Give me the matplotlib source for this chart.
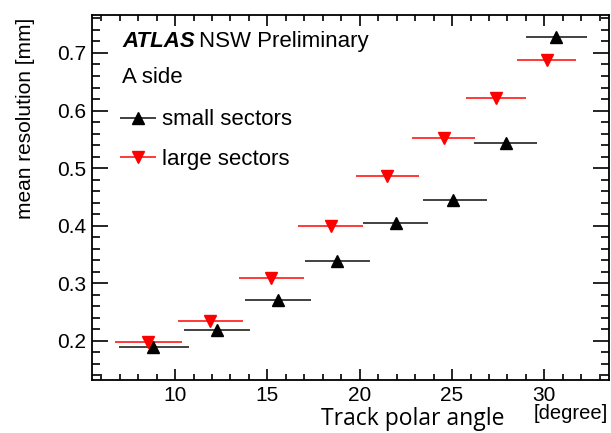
import matplotlib.pyplot as plt
from matplotlib.container import ErrorbarContainer
from matplotlib.legend_handler import HandlerErrorbar
from matplotlib.ticker import MultipleLocator

# small sectors (A side)
small_x = [8.82, 12.27, 15.58, 18.75, 21.96, 25.03, 27.90, 30.65]
small_y = [0.189, 0.218, 0.271, 0.338, 0.405, 0.444, 0.544, 0.727]
small_lo = [6.97, 10.49, 13.80, 17.03, 20.15, 23.40, 26.20, 29.00]
small_hi = [10.73, 14.08, 17.37, 20.54, 23.70, 26.90, 29.60, 32.30]

# large sectors (A side)
large_x = [8.55, 11.90, 15.20, 18.42, 21.50, 24.55, 27.40, 30.15]
large_y = [0.198, 0.234, 0.310, 0.399, 0.486, 0.553, 0.621, 0.687]
large_lo = [6.74, 10.13, 13.44, 16.65, 19.78, 22.83, 25.76, 28.50]
large_hi = [10.36, 13.70, 16.97, 20.15, 23.22, 26.25, 28.98, 31.70]

plt.rcParams['font.family'] = ['Liberation Sans', 'DejaVu Sans']

fig = plt.figure(figsize=(6.11, 4.33), dpi=100)
ax = fig.add_axes([0.1506, 0.1224, 0.8461, 0.843])


def xerr(xs, lo, hi):
    return [[x - l for x, l in zip(xs, lo)], [h - x for x, h in zip(xs, hi)]]


ax.errorbar(small_x, small_y, xerr=xerr(small_x, small_lo, small_hi), fmt='^',
            color='k', ecolor='#333333', ms=8, elinewidth=1.3, capsize=0,
            label='small sectors')
ax.errorbar(large_x, large_y, xerr=xerr(large_x, large_lo, large_hi), fmt='v',
            color='#ff0000', ecolor='#ff2a2a', ms=8, elinewidth=1.3, capsize=0,
            label='large sectors')

ax.set_xlim(5.5, 33.5)
ax.set_ylim(0.132, 0.766)
ax.xaxis.set_major_locator(MultipleLocator(5))
ax.xaxis.set_minor_locator(MultipleLocator(1))
ax.yaxis.set_major_locator(MultipleLocator(0.1))
ax.yaxis.set_minor_locator(MultipleLocator(0.02))
ax.set_xticks([10, 15, 20, 25, 30])
ax.set_xticklabels(['10', '15', '20', '25', '30'])

ax.tick_params(which='both', direction='in', top=True, right=True, labelsize=15, width=1.2)
ax.tick_params(axis='x', which='major', length=8, pad=4)
ax.tick_params(axis='x', which='minor', length=4.3)
ax.tick_params(axis='y', which='major', length=11.5, pad=4)
ax.tick_params(axis='y', which='minor', length=5.8)
for s in ax.spines.values():
    s.set_linewidth(1.3)

ax.set_ylabel('mean resolution [mm]', fontsize=15)
ax.yaxis.set_label_coords(-0.11, 0.718)

fig.text(0.525, 0.018, 'Track polar angle', fontsize=16.5, family='Open Sans')
fig.text(0.995, 0.033, '[degree]', fontsize=14.5, ha='right')

ax.text(0.058, 0.926, 'ATLAS', transform=ax.transAxes, fontsize=16,
        fontweight='bold', fontstyle='italic', va='center')
ax.text(0.206, 0.926, 'NSW Preliminary', transform=ax.transAxes, fontsize=16, va='center')
ax.text(0.058, 0.830, 'A side', transform=ax.transAxes, fontsize=16, va='center')

# wider horizontal bar in the legend handles
ax.legend(loc='upper left', bbox_to_anchor=(0.024, 0.772), frameon=False, fontsize=16,
          handlelength=2.0, handletextpad=0.1, labelspacing=0.85, borderpad=0,
          handler_map={ErrorbarContainer: HandlerErrorbar(xerr_size=0.8)})

fig.savefig('out.png', dpi=100)
